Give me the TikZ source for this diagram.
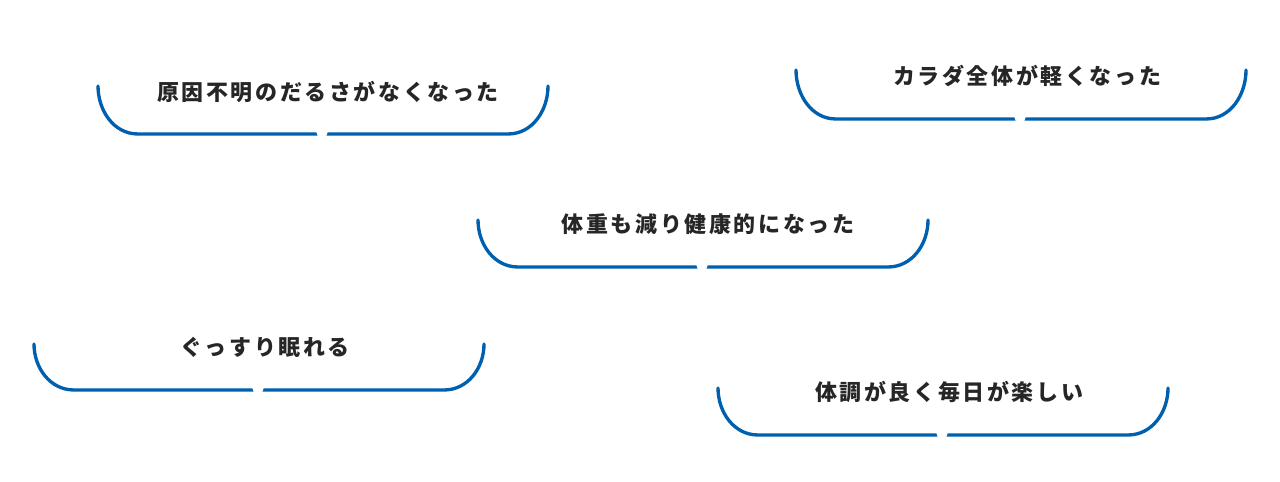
\documentclass[tikz,border=0pt]{standalone}
\usepackage{fontspec}
\newfontfamily\jp[LetterSpace=12]{Noto Sans CJK JP}
\definecolor{bubbleblue}{HTML}{0060B0}
\begin{document}
\begin{tikzpicture}[x=0.02cm,y=-0.02cm,
	bubble/.style={draw=bubbleblue, line width=1.9pt, line cap=round},
	caption/.style={font=\jp\bfseries\fontsize{12.5pt}{14pt}\selectfont, text=black!85, inner sep=0pt}]
	% Rahmen
	\useasboundingbox [fill=white] (0,0) rectangle (1280,482);
	% Sprechblasen: x links / oben / unten / Spitze / Textmitte / Name / Text
	\foreach \xl/\yt/\yb/\xn/\xt/\ty/\name/\txt in {
		98/86/134/322/328/92/b1/原因不明のだるさがなくなった,
		796/70/119/1020/1027/76/b2/カラダ全体が軽くなった,
		478/220/267/702/708/224/b3/体重も減り健康的になった,
		34/344/390/258/265/347/b4/ぐっすり眠れる,
		718/388/435/942/949/392/b5/体調が良く毎日が楽しい} {
		% Bogen
		\draw [bubble] (\xl,\yt) to [out=270,in=180] (\xl+40,\yb) -- (\xl+410,\yb) to [out=0,in=270] (\xl+450,\yt);
		% Spitze
		\fill [white] (\xn-6,\yb-3) -- (\xn+6,\yb-3) -- (\xn+4,\yb+3) -- (\xn-4,\yb+3) -- cycle;
		% Text
		\node [caption] (\name) at (\xt,\ty) {\txt};
	}
\end{tikzpicture}
\end{document}
